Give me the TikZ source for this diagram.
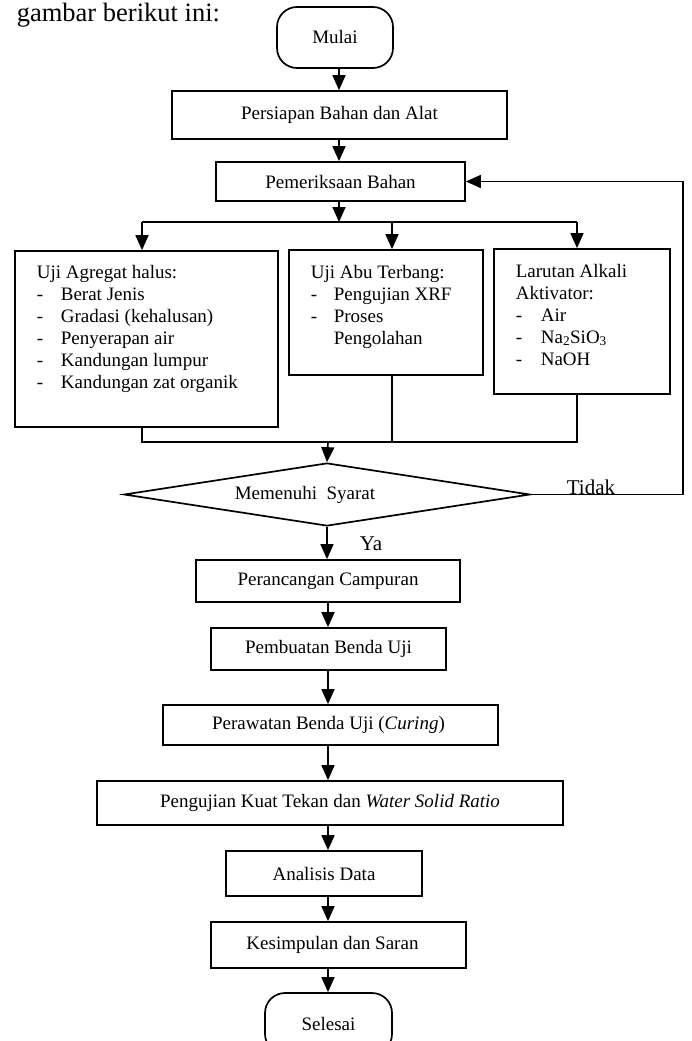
\documentclass[tikz,border=0pt]{standalone}
\usepackage{fontspec}
\setmainfont{Liberation Serif}
\usetikzlibrary{arrows.meta,shapes.geometric}
\begin{document}
\begin{tikzpicture}[x=1pt,y=-1pt,line width=1.7pt,
  every node/.style={font=\fontsize{19}{23}\selectfont,inner sep=0pt},
  box/.style 2 args={draw,rectangle,minimum width=#1,minimum height=#2},
  term/.style 2 args={draw,rectangle,rounded corners=20pt,minimum width=#1,minimum height=#2},
  arr/.style={-{Triangle[width=13pt,length=15pt]}},
  listtxt/.style={anchor=base west,align=left,font=\fontsize{19}{22}\selectfont},
  biglbl/.style={anchor=base west,font=\fontsize{21}{25}\selectfont}]
\useasboundingbox (0,0) rectangle (691,1041);
% intro text
\node[anchor=base west,font=\fontsize{26.5}{31}\selectfont] (intro) at (16,21.5) {gambar berikut ini:};
% top part
\node[term={116pt}{61pt}] (mulai) at (335,37.5) {Mulai};
\node[box={335pt}{48pt}] (persiapan) at (339.5,115) {Persiapan Bahan dan Alat};
\node[box={249pt}{39pt}] (periksa) at (340.5,181.5) {Pemeriksaan Bahan};
\coordinate (colU) at (339,0);
\draw[arr] (mulai.south -| colU) -- (persiapan.north -| colU);
\draw[arr] (persiapan.south -| colU) -- (periksa.north -| colU);
% three boxes
\node[box={263pt}{176pt}] (b1) at (146.5,339) {};
\node[box={194pt}{125pt}] (b2) at (386,312.5) {};
\node[box={176pt}{145pt}] (b3) at (582,321.5) {};
% multi-line nodes: base anchor is the baseline of the last line
\node[listtxt] (t1) at (36,388) {Uji Agregat halus:\\
  \makebox[24pt][l]{-}Berat Jenis\\
  \makebox[24pt][l]{-}Gradasi (kehalusan)\\
  \makebox[24pt][l]{-}Penyerapan air\\
  \makebox[24pt][l]{-}Kandungan lumpur\\
  \makebox[24pt][l]{-}Kandungan zat organik};
\node[listtxt] (t2) at (310,344) {Uji Abu Terbang:\\
  \makebox[23pt][l]{-}Pengujian XRF\\
  \makebox[23pt][l]{-}Proses\\
  \hspace*{23pt}Pengolahan};
\node[listtxt] (t3) at (515,365) {Larutan Alkali\\
  Aktivator:\\
  \makebox[25pt][l]{-}Air\\
  \makebox[25pt][l]{-}Na\textsubscript{2}SiO\textsubscript{3}\\
  \makebox[25pt][l]{-}NaOH};
% branching
\coordinate (bl) at (142,222);
\coordinate (bm) at (392,222);
\coordinate (br) at (577,222);
\draw[arr] (periksa.south -| colU) -- (colU |- bl);
\draw (bl) -- (br);
\draw[arr] (bl) -- (b1.north -| bl);
\draw[arr] (bm) -- (b2.north -| bm);
\draw[arr] (br) -- (b3.north -| br);
% merging
\coordinate (ml) at (142,442);
\coordinate (mm) at (392,442);
\coordinate (mr) at (577,442);
\coordinate (colL) at (328,0);
\draw (b1.south -| ml) -- (ml) -- (mr) -- (b3.south -| mr);
\draw (b2.south -| mm) -- (mm);
% decision
\node[draw,diamond,minimum width=406pt,minimum height=63pt] (dia) at (327,494.5) {};
\node (diatxt) at (305,494.5) {Memenuhi\ \ Syarat};
\draw[arr] (colL |- ml) -- (dia.north);
\coordinate (fbr) at (683,494.5);
\draw[arr] (dia.east) -- (fbr) -- (fbr |- periksa.east) -- (periksa.east);
\node[biglbl] (tidak) at (566,494.5) {Tidak};
\draw (dia.east) -- (fbr);
% lower part
\node[box={264pt}{42pt}] (rancang) at (328,581) {Perancangan Campuran};
\node[box={235pt}{42pt}] (buat) at (328.5,649) {Pembuatan Benda Uji};
\node[box={335pt}{40pt}] (rawat) at (330.5,725) {\hspace*{-4pt}Perawatan Benda Uji (\textit{Curing})};
\node[box={466pt}{44pt}] (uji) at (330,803) {Pengujian Kuat Tekan dan \textit{Water Solid Ratio}};
\node[box={196pt}{45pt}] (analisis) at (324,873.5) {Analisis Data};
\node[box={255pt}{46pt}] (simpul) at (338.5,945) {\hspace*{-12pt}Kesimpulan dan Saran};
\node[term={127pt}{61pt}] (selesai) at (328.5,1023.5) {Selesai};
\node[biglbl] (ya) at (359,550) {Ya};
\draw[arr] (dia.south) -- (rancang.north -| dia.south);
\draw[arr] (rancang.south -| colL) -- (buat.north -| colL);
\draw[arr] (buat.south -| colL) -- (rawat.north -| colL);
\draw[arr] (rawat.south -| colL) -- (uji.north -| colL);
\draw[arr] (uji.south -| colL) -- (analisis.north -| colL);
\draw[arr] (analisis.south -| colL) -- (simpul.north -| colL);
\draw[arr] (simpul.south -| colL) -- (selesai.north -| colL);
\end{tikzpicture}
\end{document}
